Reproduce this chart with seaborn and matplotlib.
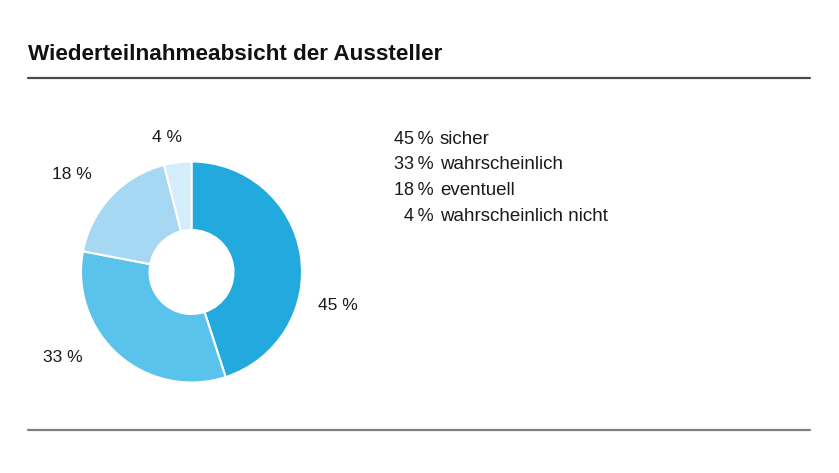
import numpy as np
import matplotlib
matplotlib.use("Agg")
import matplotlib.pyplot as plt
import seaborn as sns

# data
shares = [45, 33, 18, 4]
answers = ["sicher", "wahrscheinlich", "eventuell", "wahrscheinlich nicht"]
pct_labels = ["45 %", "33 %", "18 %", "4 %"]
legend_nums = ["45 %", "33 %", "18 %", "4 %"]
colors = ["#22a9de", "#5ac3ec", "#a6d8f3", "#d4edfa"]

# hand tweaks to where the outside labels sit (degrees, radius factor)
label_shift = [-22, -15, 4, 3]
label_dist = [1.36, 1.40, 1.40, 1.24]

sns.set_theme(style="white")
plt.rcParams["font.family"] = ["Liberation Sans", "DejaVu Sans"]

W, H = 839, 473
fig = plt.figure(figsize=(W / 100, H / 100), dpi=100)

# pie axes: centre ~ (191, 272) px, radius ~110 px
cx, cy, r = 191.5, 272, 110.5
ax = fig.add_axes([(cx - r) / W, (H - cy - r) / H, 2 * r / W, 2 * r / H])
wedges, _ = ax.pie(shares, colors=colors, startangle=90, counterclock=False,
                   wedgeprops=dict(width=0.62, edgecolor="white", linewidth=1.5))
ax.set_xlim(-1, 1)
ax.set_ylim(-1, 1)
ax.set_aspect("equal")
ax.axis("off")

for w, lab, sh, d in zip(wedges, pct_labels, label_shift, label_dist):
    ang = np.deg2rad((w.theta1 + w.theta2) / 2 + sh)
    ax.text(d * np.cos(ang), d * np.sin(ang), lab, ha="center", va="center",
            fontsize=12.5, color="#1a1a1a", clip_on=False)

# title and rules
fig.text(28 / W, 1 - 55 / H, "Wiederteilnahmeabsicht der Aussteller",
         fontsize=16.2, fontweight="bold", color="#111111", va="center", ha="left")
fig.add_artist(plt.Line2D([28 / W, 810 / W], [1 - 78 / H, 1 - 78 / H],
                          color="#4a4a4a", linewidth=1.6))
fig.add_artist(plt.Line2D([28 / W, 810 / W], [1 - 430 / H, 1 - 430 / H],
                          color="#7f7f7f", linewidth=1.6))

# text legend on the right
for i, (num, ans) in enumerate(zip(legend_nums, answers)):
    y = 1 - (139 + i * 25.8) / H
    fig.text(434 / W, y, num.replace(" ", "\u2009"), fontsize=13, ha="right",
             va="center", color="#1a1a1a")
    fig.text(440 / W, y, ans, fontsize=13.5, ha="left", va="center", color="#1a1a1a")

fig.savefig("out.png", dpi=100)
